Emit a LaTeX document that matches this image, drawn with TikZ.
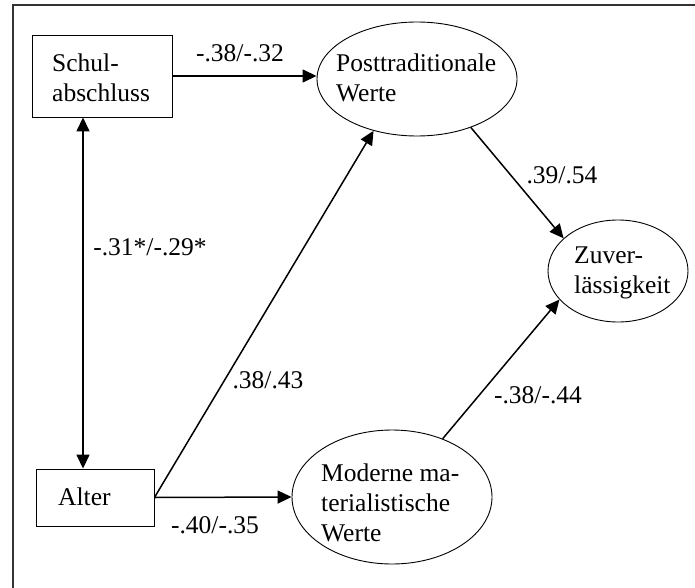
\documentclass[tikz,border=0pt]{standalone}
\usepackage{fontspec}
\setmainfont{Liberation Serif}
\usetikzlibrary{shapes.geometric,arrows.meta}
\begin{document}
\begin{tikzpicture}[x=1pt,y=-1pt,
  txt/.style={font=\fontsize{25.5}{30}\selectfont, inner sep=0pt},
  lbl/.style={font=\fontsize{25.5}{30}\selectfont, inner sep=0pt},
  varbox/.style={draw, line width=0.9pt, minimum width=#1, inner sep=0pt},
  latent/.style={draw, ellipse, line width=0.9pt, inner sep=0pt},
  path/.style={line width=1.5pt, -{Triangle[length=14pt,width=13pt]}},
  corr/.style={line width=1.5pt, {Triangle[length=14pt,width=13pt]}-{Triangle[length=14pt,width=13pt]}},
  frame/.style={line width=1.8pt, draw=black!80}]
\useasboundingbox (0,0) rectangle (695,588);

% frame (top and left edges)
\draw[frame] (13,588) -- (13,5) -- (695,5);

% observed variables
\node[varbox=140pt, minimum height=82pt] (schul) at (102,76) {};
\node[txt, anchor=west, align=left] (schult) at (52,78) {Schul-\\abschluss};
\node[varbox=118pt, minimum height=57pt] (alter) at (95,497.5) {};
\node[txt, anchor=west] (altert) at (58,497) {Alter};

% latent variables
\node[latent, minimum width=200pt, minimum height=114pt] (post) at (417,79) {};
\node[txt, anchor=west, align=left] (postt) at (336,78) {Posttraditionale\\Werte};
\node[latent, minimum width=140pt, minimum height=102pt] (zuv) at (618,271) {};
\node[txt, anchor=west, align=left] (zuvt) at (574,273) {Zuver-\\lässigkeit};
\node[latent, minimum width=200pt, minimum height=134pt] (mod) at (392,497) {};
\node[txt, anchor=west, align=left] (modt) at (321,503) {Moderne ma-\\terialistische\\Werte};

% paths
\draw[path] (schul.east) -- (schul.east -| post.west);
\draw[corr] ([xshift=-19pt]schul.south) -- ([xshift=-12pt]alter.north);
\draw[path] (post.-42) -- (zuv.149);
\draw[path] (mod.49) -- (zuv.206);
\draw[path] (alter.east) -- (post.230.5);
\draw[path] (alter.east) -- (mod.west);

% coefficients
\node[lbl] (c1) at (240,53) {-.38/-.32};
\node[lbl] (c2) at (150,247) {-.31*/-.29*};
\node[lbl] (c3) at (562,175) {.39/.54};
\node[lbl] (c4) at (268,380) {.38/.43};
\node[lbl] (c5) at (538,395) {-.38/-.44};
\node[lbl] (c6) at (215,525) {-.40/-.35};
\end{tikzpicture}
\end{document}
